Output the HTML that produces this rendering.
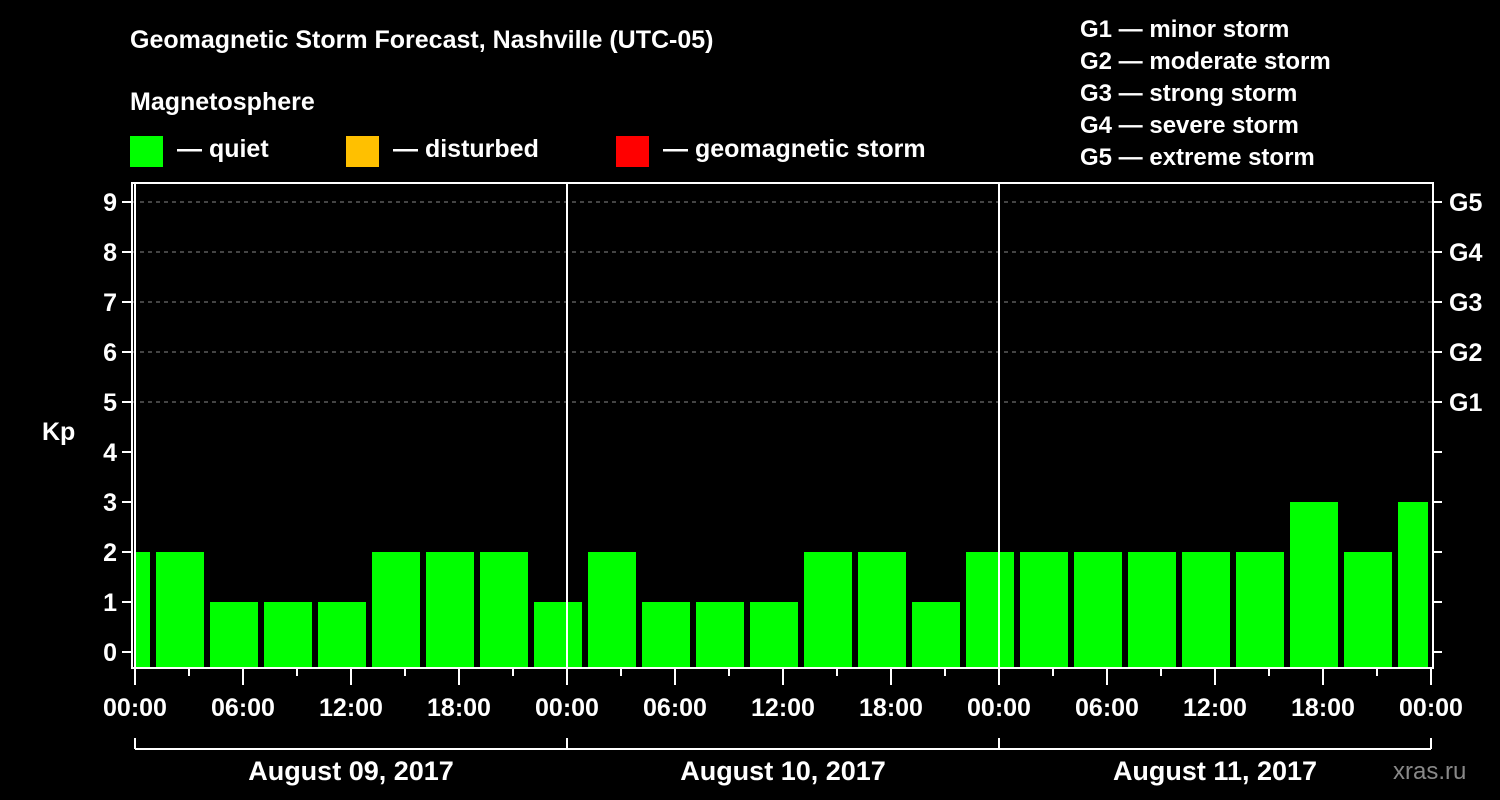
<!DOCTYPE html>
<html><head><meta charset="utf-8"><style>
body{margin:0;background:#000}
svg{display:block;font-family:"Liberation Sans",Arial,sans-serif;font-weight:bold;fill:#fff}
</style></head><body>
<svg width="1500" height="800" viewBox="0 0 1500 800" id="c">
<text x="130" y="48" font-size="25">Geomagnetic Storm Forecast, Nashville (UTC-05)</text>
<text x="130" y="110" font-size="25">Magnetosphere</text>
<g font-size="25">
<rect x="130" y="136" width="33" height="31" fill="#00ff00"/>
<text x="177" y="157">— quiet</text>
<rect x="346" y="136" width="33" height="31" fill="#ffc000"/>
<text x="393" y="157">— disturbed</text>
<rect x="616" y="136" width="33" height="31" fill="#ff0000"/>
<text x="663" y="157">— geomagnetic storm</text>
</g>
<g font-size="24">
<text x="1080" y="37">G1 — minor storm</text>
<text x="1080" y="69">G2 — moderate storm</text>
<text x="1080" y="101">G3 — strong storm</text>
<text x="1080" y="133">G4 — severe storm</text>
<text x="1080" y="165">G5 — extreme storm</text>
</g>
<g id="grid"></g><g id="bars"></g><g id="axes"></g>
<text x="42" y="440" font-size="25">Kp</text>
<text x="1393" y="779" font-size="24" fill="#888" style="fill:#888;font-weight:normal">xras.ru</text>
</svg>
<script>
const values=[2,2,1,1,1,2,2,2,1,2,1,1,1,2,2,1,2,2,2,2,2,2,3,2,3];
const startHour=-2;
const days=["August 09, 2017","August 10, 2017","August 11, 2017"];
const yTicks=[0,1,2,3,4,5,6,7,8,9];
const gLabels=["G1","G2","G3","G4","G5"];
const xTickLabels=["00:00","06:00","12:00","18:00"];
const NS="http://www.w3.org/2000/svg";
const X0=135,PXH=18,L=132,R=1433,T=183,B=668;
const x=h=>X0+h*PXH, y=v=>652-v*50;
function mk(t,a,p){const e=document.createElementNS(NS,t);for(const k in a)e.setAttribute(k,a[k]);document.getElementById(p).appendChild(e);return e;}
yTicks.forEach(v=>{if(v>=5){const l=mk('line',{x1:L,x2:R,y1:y(v),y2:y(v),stroke:'#888','stroke-dasharray':'4,4'},'grid');}});
values.forEach((v,i)=>{let a=x(startHour+3*i)+3,b=x(startHour+3*i+3)-3;a=Math.max(a,L+4);b=Math.min(b,R-5);
const r=mk('rect',{x:a,y:y(v),width:b-a,height:B-y(v),fill:'#00ff00'},'bars');

});
mk('rect',{x:L,y:T,width:R-L,height:B-T,fill:'none',stroke:'#fff','stroke-width':2},'axes');
yTicks.forEach(v=>{mk('line',{x1:122,x2:L,y1:y(v),y2:y(v),stroke:'#fff','stroke-width':2},'axes');
mk('line',{x1:R,x2:1442,y1:y(v),y2:y(v),stroke:'#fff','stroke-width':2},'axes');
const t=mk('text',{x:117,y:y(v)+9,'text-anchor':'end','font-size':25},'axes');t.textContent=v;
});
gLabels.forEach((g,i)=>{const t=mk('text',{x:1449,y:y(5+i)+9,'font-size':25},'axes');t.textContent=g;
});
for(let d=0;d<days.length;d++){
 mk('line',{x1:x(24*d),x2:x(24*d),y1:T,y2:B,stroke:'#fff','stroke-width':2},'axes');
 for(let k=0;k<8;k++){const h=24*d+3*k;mk('line',{x1:x(h),x2:x(h),y1:B,y2:k%2?676:685,stroke:'#fff','stroke-width':2},'axes');
  if(k%2==0){const t=mk('text',{x:x(h),y:716,'text-anchor':'middle','font-size':25},'axes');t.textContent=xTickLabels[k/2];
  }}
 const t=mk('text',{x:x(24*d+12),y:780,'text-anchor':'middle','font-size':27},'axes');t.textContent=days[d];
 
 mk('line',{x1:x(24*d),x2:x(24*d),y1:738,y2:749,stroke:'#fff','stroke-width':2},'axes');
}
const E=x(24*days.length);
mk('line',{x1:E,x2:E,y1:B,y2:685,stroke:'#fff','stroke-width':2},'axes');
let t=mk('text',{x:E,y:716,'text-anchor':'middle','font-size':25},'axes');t.textContent="00:00";

mk('line',{x1:E,x2:E,y1:738,y2:749,stroke:'#fff','stroke-width':2},'axes');
mk('line',{x1:x(0),x2:E,y1:749,y2:749,stroke:'#fff','stroke-width':2},'axes');
</script>
</body></html>
